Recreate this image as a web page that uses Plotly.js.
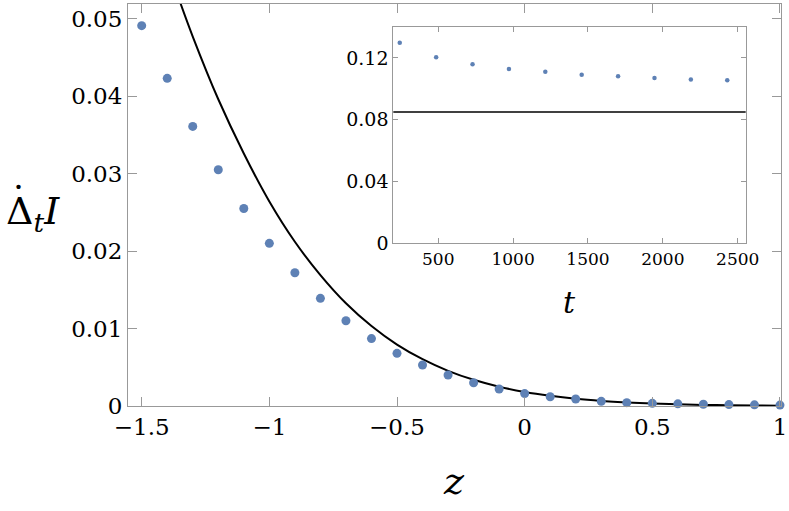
<!DOCTYPE html>
<html>
<head>
<meta charset="utf-8">
<script src="https://cdn.plot.ly/plotly-3.0.1.min.js"></script>
<style>html,body{margin:0;padding:0;background:#fff;}#chart{width:789px;height:511px;}</style>
</head>
<body>
<div id="chart"></div>
<script>
// Main panel: simulated points
const mainZ = [-1.5, -1.4, -1.3, -1.2, -1.1, -1.0, -0.9, -0.8, -0.7, -0.6, -0.5, -0.4, -0.3, -0.2, -0.1, 0.0, 0.1, 0.2, 0.3, 0.4, 0.5, 0.6, 0.7, 0.8, 0.9, 1.0];
const mainY = [0.0491, 0.0423, 0.0361, 0.0305, 0.0255, 0.0210, 0.0172, 0.0139, 0.0110, 0.0087, 0.0068, 0.0053, 0.0040, 0.0030, 0.0022, 0.0016, 0.0012, 0.0009, 0.0006, 0.00043, 0.00034, 0.00028, 0.00022, 0.00018, 0.00015, 0.00012];
// Main panel: theoretical curve
const curveZ = [-1.36, -1.3, -1.2, -1.1, -1.0, -0.9, -0.8, -0.7, -0.6, -0.5, -0.4, -0.3, -0.2, -0.1, 0.0, 0.1, 0.2, 0.3, 0.4, 0.5, 0.6, 0.7, 0.8, 0.9, 1.0];
const curveY = [0.0531, 0.0477, 0.0396, 0.0326, 0.0264, 0.0212, 0.0169, 0.01326, 0.01032, 0.00793, 0.00604, 0.00454, 0.00338, 0.00249, 0.00181, 0.00131, 0.00093, 0.000656, 0.000457, 0.000315, 0.000215, 0.000145, 0.000097, 0.000064, 0.000042];
// Inset: convergence with t
const insetT = [243, 486, 729, 972, 1215, 1458, 1701, 1944, 2187, 2430];
const insetY = [0.1298, 0.1204, 0.1159, 0.1129, 0.1110, 0.1091, 0.1081, 0.1070, 0.1061, 0.1055];
const refLevel = 0.085;

const blue = '#5E81B5';
const frame = '#999999';
const fam = 'DejaVu Serif';

const traces = [
  {x: curveZ, y: curveY, type: 'scatter', mode: 'lines', line: {color: '#000', width: 2, shape: 'spline', smoothing: 1}, xaxis: 'x', yaxis: 'y', hoverinfo: 'skip'},
  {x: mainZ, y: mainY, type: 'scatter', mode: 'markers', marker: {color: blue, size: 9}, xaxis: 'x', yaxis: 'y', cliponaxis: false},
  {x: insetT, y: insetY, type: 'scatter', mode: 'markers', marker: {color: blue, size: 4.5}, xaxis: 'x2', yaxis: 'y2'}
];

const axCommon = {showline: true, linecolor: frame, linewidth: 1, mirror: 'ticks', ticks: 'inside', tickcolor: frame, showgrid: false, zeroline: false, color: '#000'};

const layout = {
  width: 789, height: 511,
  margin: {l: 128, r: 8, t: 4, b: 105},
  paper_bgcolor: '#fff', plot_bgcolor: '#fff',
  showlegend: false,
  font: {family: fam, color: '#000'},
  xaxis: Object.assign({}, axCommon, {range: [-1.5536, 1.004], tick0: 0, dtick: 0.5, ticklen: 9, tickfont: {size: 23, family: fam}, domain: [0, 1]}),
  yaxis: Object.assign({}, axCommon, {range: [0, 0.0519], tick0: 0, dtick: 0.01, ticklen: 9, tickfont: {size: 23, family: fam}, domain: [0, 1]}),
  xaxis2: Object.assign({}, axCommon, {anchor: 'y2', range: [200, 2553], tick0: 0, dtick: 500, ticklen: 5, tickfont: {size: 17, family: fam}, domain: [0.4063, 0.9459]}),
  yaxis2: Object.assign({}, axCommon, {anchor: 'x2', range: [0, 0.1402], tick0: 0, dtick: 0.04, ticklen: 5, tickfont: {size: 19, family: fam}, domain: [0.4047, 0.9435]}),
  shapes: [
    {type: 'line', xref: 'x2 domain', yref: 'y2', x0: 0, x1: 1, y0: refLevel, y1: refLevel, line: {color: '#000', width: 1.3}}
  ],
  annotations: [
    {xref: 'paper', yref: 'paper', x: (454 - 128) / 653, y: (406 - 481) / 402, text: '<i>z</i>', showarrow: false, font: {size: 38, family: fam}, xanchor: 'center', yanchor: 'middle'},
    {xref: 'paper', yref: 'paper', x: (569 - 128) / 653, y: (406 - 302) / 402, text: '<i>t</i>', showarrow: false, font: {size: 30, family: fam}, xanchor: 'center', yanchor: 'middle'},
    {xref: 'paper', yref: 'paper', x: (33 - 128) / 653, y: (406 - 213) / 402, text: 'Δ<sub><i>t</i></sub><i>I</i>', showarrow: false, font: {size: 38, family: fam}, xanchor: 'center', yanchor: 'middle'},
    {xref: 'paper', yref: 'paper', x: (18 - 128) / 653, y: (406 - 200) / 402, text: '˙', showarrow: false, font: {size: 38, family: fam}, xanchor: 'center', yanchor: 'middle'}
  ]
};

Plotly.newPlot('chart', traces, layout, {staticPlot: true, displayModeBar: false});
</script>
</body>
</html>
